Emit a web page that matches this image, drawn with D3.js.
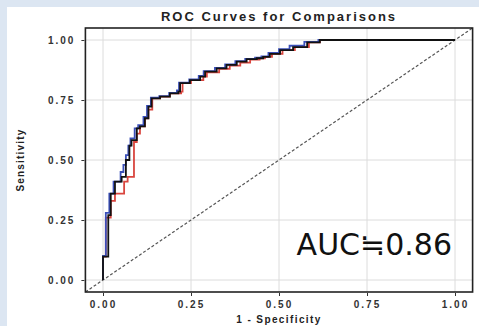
<!DOCTYPE html>
<html>
<head>
<meta charset="utf-8">
<script src="https://cdn.jsdelivr.net/npm/d3@7"></script>
<style>
  body { margin: 0; background: #ffffff; }
  svg { display: block; }
  .axis text { font-family: "Liberation Sans", Arial, sans-serif; font-weight: bold; font-size: 10px; fill: #333; letter-spacing: 2px; }
  .axis line { stroke: #333; }
  .axis path { display: none; }
</style>
</head>
<body>
<div id="chart"></div>
<script>
// tick values / labels
const tickValues = [0, 0.25, 0.5, 0.75, 1];

// ROC step corners: [1 - specificity, sensitivity]
const rocBlack = [
  [0, 0], [0.015, 0.097], [0.022, 0.27], [0.034, 0.36], [0.053, 0.41], [0.065, 0.43],
  [0.075, 0.50], [0.081, 0.56], [0.096, 0.583], [0.105, 0.632], [0.119, 0.64],
  [0.129, 0.674], [0.138, 0.722], [0.162, 0.757], [0.19, 0.764], [0.214, 0.778],
  [0.219, 0.785], [0.247, 0.82], [0.276, 0.833], [0.29, 0.847], [0.323, 0.868],
  [0.351, 0.882], [0.38, 0.896], [0.408, 0.91], [0.437, 0.92], [0.455, 0.924],
  [0.474, 0.93], [0.503, 0.942], [0.54, 0.958], [0.58, 0.97], [0.616, 0.99], [1, 1]
];
const rocRed = [
  [0, 0], [0.008, 0.097], [0.022, 0.26], [0.034, 0.33], [0.06, 0.36], [0.07, 0.41],
  [0.088, 0.43], [0.096, 0.575], [0.105, 0.61], [0.119, 0.64], [0.129, 0.674],
  [0.14, 0.71], [0.162, 0.757], [0.19, 0.764], [0.222, 0.778], [0.226, 0.785],
  [0.25, 0.82], [0.285, 0.833], [0.295, 0.847], [0.33, 0.865], [0.36, 0.88],
  [0.39, 0.893], [0.418, 0.906], [0.445, 0.918], [0.46, 0.924], [0.48, 0.93],
  [0.51, 0.942], [0.545, 0.958], [0.585, 0.97], [0.616, 0.99], [1, 1]
];
const rocBlue = [
  [0, 0], [0.008, 0.1], [0.018, 0.28], [0.03, 0.36], [0.05, 0.41], [0.058, 0.45],
  [0.065, 0.48], [0.072, 0.52], [0.078, 0.56], [0.09, 0.59], [0.1, 0.632],
  [0.115, 0.645], [0.125, 0.68], [0.136, 0.725], [0.16, 0.76], [0.188, 0.766],
  [0.21, 0.78], [0.216, 0.79], [0.245, 0.822], [0.272, 0.836], [0.286, 0.85],
  [0.318, 0.87], [0.347, 0.884], [0.376, 0.898], [0.404, 0.912], [0.432, 0.921],
  [0.45, 0.926], [0.47, 0.932], [0.5, 0.946], [0.53, 0.962], [0.572, 0.976],
  [0.612, 0.992], [1, 1]
];
const curves = [
  { name: 'red', color: '#d9463f', data: rocRed },
  { name: 'blue', color: '#3a4fb8', data: rocBlue },
  { name: 'black', color: '#111111', data: rocBlack }
];

const width = 479;
const height = 326;
const panel = { left: 85.4, right: 472.6, top: 28, bottom: 292 };

const svg = d3.select('#chart').append('svg')
  .attr('width', width)
  .attr('height', height);

// slide background frame
svg.append('rect').attr('width', width).attr('height', height).attr('fill', '#dce6f2');
svg.append('rect').attr('x', 7).attr('y', 7).attr('width', width - 7).attr('height', height - 7).attr('fill', '#ffffff');

const xScale = d3.scaleLinear().domain([-0.05, 1.05]).range([panel.left, panel.right]);
const yScale = d3.scaleLinear().domain([-0.05, 1.05]).range([panel.bottom, panel.top]);

// grid
const grid = svg.append('g').attr('class', 'grid');
grid.selectAll('line.v').data(tickValues).enter().append('line')
  .attr('x1', d => xScale(d)).attr('x2', d => xScale(d))
  .attr('y1', panel.top).attr('y2', panel.bottom)
  .attr('stroke', '#dcdcdc').attr('stroke-width', 1);
grid.selectAll('line.h').data(tickValues).enter().append('line')
  .attr('y1', d => yScale(d)).attr('y2', d => yScale(d))
  .attr('x1', panel.left).attr('x2', panel.right)
  .attr('stroke', '#dcdcdc').attr('stroke-width', 1);

// diagonal reference line
svg.append('line')
  .attr('x1', xScale(-0.05)).attr('y1', yScale(-0.05))
  .attr('x2', xScale(1.05)).attr('y2', yScale(1.05))
  .attr('stroke', '#555').attr('stroke-width', 1.2)
  .attr('stroke-dasharray', '3,2');

// curves
const line = d3.line()
  .x(d => xScale(d[0]))
  .y(d => yScale(d[1]))
  .curve(d3.curveStepBefore);
svg.append('g').selectAll('path')
  .data(curves)
  .enter().append('path')
    .attr('d', d => line(d.data))
    .attr('fill', 'none')
    .attr('stroke', d => d.color)
    .attr('stroke-width', 1.8);

// panel border
svg.append('rect')
  .attr('x', panel.left).attr('y', panel.top)
  .attr('width', panel.right - panel.left).attr('height', panel.bottom - panel.top)
  .attr('fill', 'none').attr('stroke', '#222').attr('stroke-width', 1.6);

// axes
const fmt = d3.format('.2f');
svg.append('g').attr('class', 'axis x')
  .attr('transform', `translate(0, ${panel.bottom + 1})`)
  .call(d3.axisBottom(xScale).tickValues(tickValues).tickFormat(fmt).tickSize(3).tickSizeOuter(0).tickPadding(5));
svg.append('g').attr('class', 'axis y')
  .attr('transform', `translate(${panel.left - 1}, 0)`)
  .call(d3.axisLeft(yScale).tickValues(tickValues).tickFormat(fmt).tickSize(3).tickSizeOuter(0).tickPadding(6));

// titles
const mid = (panel.left + panel.right) / 2;
svg.append('text')
  .attr('x', mid).attr('y', 21)
  .attr('text-anchor', 'middle')
  .style('font-family', '"Liberation Sans", Arial, sans-serif')
  .style('font-weight', 'bold').style('font-size', '13px').style('letter-spacing', '2px')
  .attr('fill', '#222')
  .text('ROC Curves for Comparisons');
svg.append('text')
  .attr('x', mid).attr('y', 323)
  .attr('text-anchor', 'middle')
  .style('font-family', '"Liberation Sans", Arial, sans-serif')
  .style('font-weight', 'bold').style('font-size', '10px').style('letter-spacing', '1.4px')
  .attr('fill', '#222')
  .text('1 - Specificity');
svg.append('text')
  .attr('transform', `translate(24, ${(panel.top + panel.bottom) / 2}) rotate(-90)`)
  .attr('text-anchor', 'middle')
  .style('font-family', '"Liberation Sans", Arial, sans-serif')
  .style('font-weight', 'bold').style('font-size', '10px').style('letter-spacing', '1.2px')
  .attr('fill', '#222')
  .text('Sensitivity');

// AUC annotation
svg.append('text')
  .attr('x', 452).attr('y', 255)
  .attr('text-anchor', 'end')
  .style('font-family', '"DejaVu Sans", sans-serif')
  .style('font-size', '30px')
  .attr('fill', '#111')
  .text('AUC≒0.86');
</script>
</body>
</html>
